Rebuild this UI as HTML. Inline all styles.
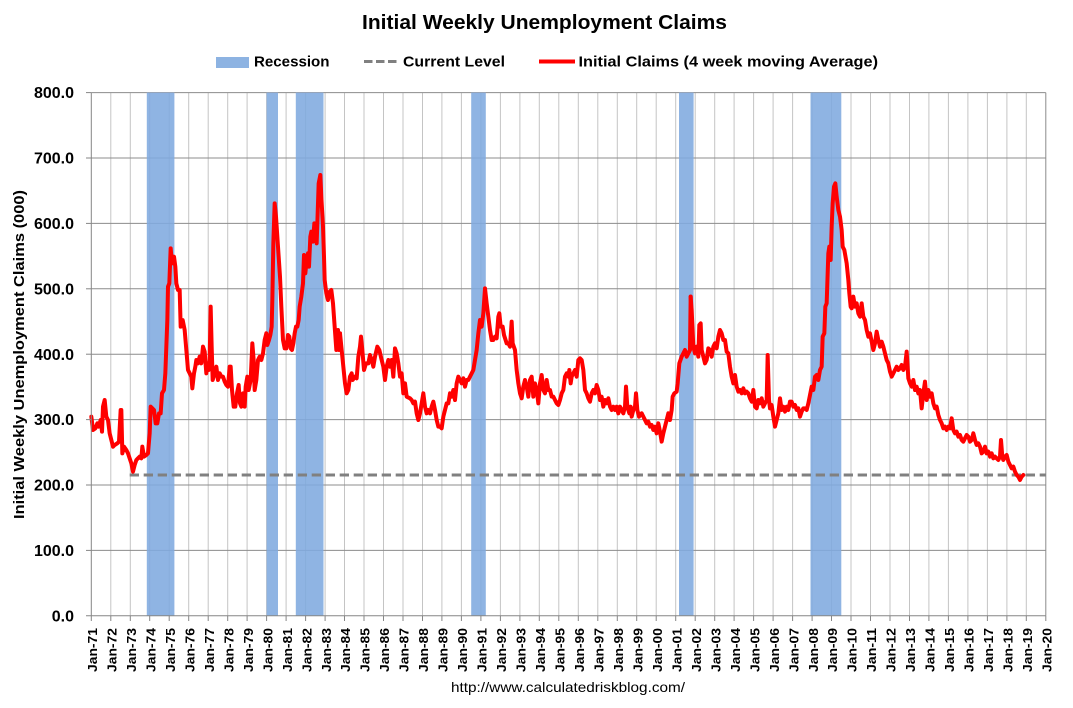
<!DOCTYPE html>
<html>
<head>
<meta charset="utf-8">
<style>
html,body{margin:0;padding:0;background:#fff;}
svg{display:block;}
text{font-family:"Liberation Sans","DejaVu Sans",sans-serif;fill:#000;}
</style>
</head>
<body>
<svg width="1073" height="708" viewBox="0 0 1073 708" xmlns="http://www.w3.org/2000/svg">
<rect x="0" y="0" width="1073" height="708" fill="#fff"/>

<!-- Title -->
<text x="544.5" y="29" font-size="20" font-weight="bold" text-anchor="middle" textLength="365" lengthAdjust="spacingAndGlyphs">Initial Weekly Unemployment Claims</text>

<!-- Legend -->
<rect x="216" y="57" width="33" height="11" fill="#8db3e2"/>
<text x="254" y="66.5" font-size="15" font-weight="bold" textLength="75.5" lengthAdjust="spacingAndGlyphs">Recession</text>
<line x1="364" y1="61.5" x2="397" y2="61.5" stroke="#808080" stroke-width="3" stroke-dasharray="8.5 3.5"/>
<text x="403" y="66.5" font-size="15" font-weight="bold" textLength="102" lengthAdjust="spacingAndGlyphs">Current Level</text>
<line x1="539" y1="61.5" x2="575" y2="61.5" stroke="#ff0000" stroke-width="4"/>
<text x="578.5" y="66.5" font-size="15" font-weight="bold" textLength="299.5" lengthAdjust="spacingAndGlyphs">Initial Claims (4 week moving Average)</text>

<!-- Vertical gridlines -->
<g stroke="#c4c4c4" stroke-width="1">
<line x1="110.8" y1="92.6" x2="110.8" y2="615.8"/>
<line x1="130.3" y1="92.6" x2="130.3" y2="615.8"/>
<line x1="149.7" y1="92.6" x2="149.7" y2="615.8"/>
<line x1="169.2" y1="92.6" x2="169.2" y2="615.8"/>
<line x1="188.7" y1="92.6" x2="188.7" y2="615.8"/>
<line x1="208.2" y1="92.6" x2="208.2" y2="615.8"/>
<line x1="227.7" y1="92.6" x2="227.7" y2="615.8"/>
<line x1="247.1" y1="92.6" x2="247.1" y2="615.8"/>
<line x1="266.6" y1="92.6" x2="266.6" y2="615.8"/>
<line x1="286.1" y1="92.6" x2="286.1" y2="615.8"/>
<line x1="305.6" y1="92.6" x2="305.6" y2="615.8"/>
<line x1="325.1" y1="92.6" x2="325.1" y2="615.8"/>
<line x1="344.5" y1="92.6" x2="344.5" y2="615.8"/>
<line x1="364.0" y1="92.6" x2="364.0" y2="615.8"/>
<line x1="383.5" y1="92.6" x2="383.5" y2="615.8"/>
<line x1="403.0" y1="92.6" x2="403.0" y2="615.8"/>
<line x1="422.5" y1="92.6" x2="422.5" y2="615.8"/>
<line x1="441.9" y1="92.6" x2="441.9" y2="615.8"/>
<line x1="461.4" y1="92.6" x2="461.4" y2="615.8"/>
<line x1="480.9" y1="92.6" x2="480.9" y2="615.8"/>
<line x1="500.4" y1="92.6" x2="500.4" y2="615.8"/>
<line x1="519.9" y1="92.6" x2="519.9" y2="615.8"/>
<line x1="539.3" y1="92.6" x2="539.3" y2="615.8"/>
<line x1="558.8" y1="92.6" x2="558.8" y2="615.8"/>
<line x1="578.3" y1="92.6" x2="578.3" y2="615.8"/>
<line x1="597.8" y1="92.6" x2="597.8" y2="615.8"/>
<line x1="617.3" y1="92.6" x2="617.3" y2="615.8"/>
<line x1="636.7" y1="92.6" x2="636.7" y2="615.8"/>
<line x1="656.2" y1="92.6" x2="656.2" y2="615.8"/>
<line x1="675.7" y1="92.6" x2="675.7" y2="615.8"/>
<line x1="695.2" y1="92.6" x2="695.2" y2="615.8"/>
<line x1="714.7" y1="92.6" x2="714.7" y2="615.8"/>
<line x1="734.1" y1="92.6" x2="734.1" y2="615.8"/>
<line x1="753.6" y1="92.6" x2="753.6" y2="615.8"/>
<line x1="773.1" y1="92.6" x2="773.1" y2="615.8"/>
<line x1="792.6" y1="92.6" x2="792.6" y2="615.8"/>
<line x1="812.1" y1="92.6" x2="812.1" y2="615.8"/>
<line x1="831.5" y1="92.6" x2="831.5" y2="615.8"/>
<line x1="851.0" y1="92.6" x2="851.0" y2="615.8"/>
<line x1="870.5" y1="92.6" x2="870.5" y2="615.8"/>
<line x1="890.0" y1="92.6" x2="890.0" y2="615.8"/>
<line x1="909.5" y1="92.6" x2="909.5" y2="615.8"/>
<line x1="928.9" y1="92.6" x2="928.9" y2="615.8"/>
<line x1="948.4" y1="92.6" x2="948.4" y2="615.8"/>
<line x1="967.9" y1="92.6" x2="967.9" y2="615.8"/>
<line x1="987.4" y1="92.6" x2="987.4" y2="615.8"/>
<line x1="1006.9" y1="92.6" x2="1006.9" y2="615.8"/>
<line x1="1026.3" y1="92.6" x2="1026.3" y2="615.8"/>
</g>
<line x1="1045.8" y1="92.6" x2="1045.8" y2="615.8" stroke="#8c8c8c" stroke-width="1"/>

<!-- Horizontal gridlines -->
<g stroke="#8c8c8c" stroke-width="1">
<line x1="91.3" y1="92.6" x2="1045.8" y2="92.6"/>
<line x1="91.3" y1="158.0" x2="1045.8" y2="158.0"/>
<line x1="91.3" y1="223.4" x2="1045.8" y2="223.4"/>
<line x1="91.3" y1="288.8" x2="1045.8" y2="288.8"/>
<line x1="91.3" y1="354.2" x2="1045.8" y2="354.2"/>
<line x1="91.3" y1="419.6" x2="1045.8" y2="419.6"/>
<line x1="91.3" y1="485.0" x2="1045.8" y2="485.0"/>
<line x1="91.3" y1="550.4" x2="1045.8" y2="550.4"/>
</g>

<!-- Recession bars -->
<g fill="#80aadf" fill-opacity="0.88">
<rect x="146.8" y="92.6" width="27.6" height="523.2"/>
<rect x="266.6" y="92.6" width="11.4" height="523.2"/>
<rect x="295.8" y="92.6" width="27.7" height="523.2"/>
<rect x="471.2" y="92.6" width="14.6" height="523.2"/>
<rect x="679.0" y="92.6" width="14.6" height="523.2"/>
<rect x="810.5" y="92.6" width="30.8" height="523.2"/>
</g>

<!-- Current level dashed line -->
<line x1="129.7" y1="475" x2="1045.8" y2="475" stroke="#808080" stroke-width="3" stroke-dasharray="9.3 4.7"/>

<!-- Red series -->
<g fill="none" stroke="#ff0000" stroke-width="4" stroke-linejoin="round" stroke-linecap="round">
<g transform="translate(88,160) scale(0.33333)">
<polyline vector-effect="non-scaling-stroke" points="10,770 15,810 22,805 28,790 32,800 38,780 42,815 45,740 50,720 55,770 60,780 65,820 70,840 75,860 80,855 88,850 93,845 98,750 100,750 103,880 108,860 115,870 120,880 125,895 130,910 135,935 140,915 145,900 150,895 155,890 160,895 163,860 168,890 175,885 180,880 185,820 188,740 193,745 198,750 203,790 208,790 213,760 218,760 222,700 228,690 232,640 235,560 238,480 240,380 244,370 248,265 252,310 258,290 262,320 265,370 270,390 275,390 278,500 284,480 290,510 295,570 300,630 305,640 310,650 313,685 318,640 322,620 325,600 330,610 335,590 340,610 345,560 350,575 355,640 358,610 362,630 365,600 368,440 371,560 374,660 380,640 385,620 390,660 395,640 400,650 405,650 410,665 415,675 420,680 425,620 428,620 432,690 437,740 442,740 447,700 452,675 456,730 460,740 465,700 470,740 473,680 478,650 482,690 488,660 493,550 497,600 500,690 505,660 510,600 515,590 520,600 525,580 530,540 535,520 538,555 543,540 547,525 551,500 553,420 556,250 560,130 564,170 568,230 572,290 576,350 580,440 585,540 590,565 595,565 600,525 604,530 608,565 612,570 616,550 620,520 624,500 628,500 632,480 635,440 640,410 645,370 648,285 652,340 656,300 660,280 663,320 667,230 670,215 675,245 679,190 683,210 686,250 689,160 692,70 697,45 700,110 705,200 708,290 710,360 715,400 720,420 725,395 730,390 735,430 740,500 745,570 750,510 753,570 756,520"/>
</g>
<g transform="translate(340,250) scale(0.33333)">
<polyline vector-effect="non-scaling-stroke" points="0,250 8,330 15,400 20,430 25,420 30,380 35,370 38,390 45,380 50,385 55,320 60,290 63,260 67,300 72,360 78,340 85,340 90,315 95,330 100,350 105,320 112,290 118,300 125,330 130,350 135,390 140,350 145,330 150,350 155,330 160,380 165,295 170,310 175,340 180,380 185,370 190,430 195,400 200,440 210,445 215,450 220,460 225,455 230,490 235,510 240,490 245,460 250,430 255,470 260,490 265,480 270,490 275,470 280,455 285,480 290,510 295,530 300,530 305,535 310,500 315,480 320,460 325,460 330,430 335,440 340,420 345,450 350,400 355,380 360,390 365,400 370,385 375,410 380,390 385,390 390,380 395,370 400,360 405,330 410,300 415,250 420,210 425,230 430,190 435,115 440,160 445,200 450,240 455,270 460,270 465,260 470,265 475,200 478,190 482,230 488,230 492,255 500,280 505,280 510,290 515,215 518,280 525,300 530,360 535,400 540,430 545,445 550,410 555,390 560,410 565,440 570,390 575,380 580,440 585,400 590,420 595,460 600,400 605,375 610,420 615,430 620,390 625,420 630,420 635,440 640,440 645,450 650,460 655,465 660,450 665,430 670,420 675,380 680,370 685,380 688,360 692,400 695,380 700,370 705,360 710,380 715,330 720,325 725,330 730,360 735,420 740,430 745,445 750,455 755,430 760,420 765,430 770,405 775,420 780,450 785,440 790,470 795,450 800,460 805,445 810,470 815,480 820,470 825,480 830,470 835,490 840,470 845,480 850,490 855,470 858,410 862,470 868,490 872,470 875,500 880,480 885,470 888,430 892,480 897,500 900,495 905,490 910,500 915,510 920,520 925,515 930,530 935,525 940,540 945,530 950,550 955,520 960,545 965,575 970,550 975,530 980,510 985,490 990,510 995,480 998,440 1003,430 1010,425 1013,400 1018,340 1025,320 1030,310 1035,300 1040,320 1045,310 1050,300 1052,140"/>
</g>
<g transform="translate(690,160) scale(0.33333)">
<polyline vector-effect="non-scaling-stroke" points="2,410 5,450 10,560 15,580 20,560 25,590 28,495 32,490 35,570 40,590 45,610 50,600 55,565 60,570 65,590 70,560 75,550 80,565 85,530 90,510 95,520 100,540 105,540 110,575 115,580 120,620 125,650 130,670 135,645 140,680 145,695 150,690 155,700 160,685 165,700 170,695 175,700 180,715 185,725 190,690 195,740 200,745 205,720 210,730 215,715 220,740 225,730 230,720 233,585 237,720 240,745 245,735 250,770 255,800 260,780 265,760 270,715 275,750 280,740 285,755 290,740 295,750 300,725 305,725 310,740 315,735 320,750 325,745 330,770 335,755 340,745 345,745 350,750 355,730 360,705 365,680 370,690 375,650 380,645 385,660 390,630 395,620 398,530 403,520 406,440 410,430 415,280 418,260 422,300 425,200 428,130 432,80 436,70 440,110 445,150 450,170 455,210 458,260 463,270 470,310 475,360 478,400 482,440 485,445 490,410 495,440 500,430 505,460 510,470 515,430 520,470 525,480 530,510 535,530 540,520 545,545 550,570 555,550 560,515 565,540 570,560 575,545 580,560 585,580 590,600 595,610 600,635 605,650 610,640 615,630 620,620 625,630 630,625 635,615 640,630 645,620 650,575 655,655 660,670 665,680 670,660 675,690 680,680 685,700 690,690 695,745 700,700 705,665 710,720 715,690 720,710 725,700 730,730 735,745 740,740 745,765 750,780 755,790 760,805 765,800 770,810 775,800 780,805 785,775 790,810 795,820 800,815 805,830 810,825 815,840 820,845 825,835 830,825 835,830 840,845 845,840 850,820 855,840 860,855 865,850 870,860 875,880 880,875 885,860 890,880 895,875 900,890 905,880 910,895 915,890 920,895 925,900 930,890 933,840 937,890 940,900 945,890 950,885 955,905 960,915 965,925 970,920 975,935 980,945 985,950 990,960 995,950 1000,945"/>
</g>
</g>

<!-- Axes -->
<line x1="91.3" y1="92.6" x2="91.3" y2="615.8" stroke="#868686" stroke-width="1"/>
<line x1="86" y1="615.8" x2="1045.8" y2="615.8" stroke="#868686" stroke-width="1"/>
<g stroke="#868686" stroke-width="1">
<line x1="86" y1="92.6" x2="91.3" y2="92.6"/>
<line x1="86" y1="158.0" x2="91.3" y2="158.0"/>
<line x1="86" y1="223.4" x2="91.3" y2="223.4"/>
<line x1="86" y1="288.8" x2="91.3" y2="288.8"/>
<line x1="86" y1="354.2" x2="91.3" y2="354.2"/>
<line x1="86" y1="419.6" x2="91.3" y2="419.6"/>
<line x1="86" y1="485.0" x2="91.3" y2="485.0"/>
<line x1="86" y1="550.4" x2="91.3" y2="550.4"/>
</g>
<g stroke="#868686" stroke-width="1" id="xt">
<line x1="91.3" y1="615.8" x2="91.3" y2="621"/>
<line x1="110.8" y1="615.8" x2="110.8" y2="621"/>
<line x1="130.3" y1="615.8" x2="130.3" y2="621"/>
<line x1="149.7" y1="615.8" x2="149.7" y2="621"/>
<line x1="169.2" y1="615.8" x2="169.2" y2="621"/>
<line x1="188.7" y1="615.8" x2="188.7" y2="621"/>
<line x1="208.2" y1="615.8" x2="208.2" y2="621"/>
<line x1="227.7" y1="615.8" x2="227.7" y2="621"/>
<line x1="247.1" y1="615.8" x2="247.1" y2="621"/>
<line x1="266.6" y1="615.8" x2="266.6" y2="621"/>
<line x1="286.1" y1="615.8" x2="286.1" y2="621"/>
<line x1="305.6" y1="615.8" x2="305.6" y2="621"/>
<line x1="325.1" y1="615.8" x2="325.1" y2="621"/>
<line x1="344.5" y1="615.8" x2="344.5" y2="621"/>
<line x1="364.0" y1="615.8" x2="364.0" y2="621"/>
<line x1="383.5" y1="615.8" x2="383.5" y2="621"/>
<line x1="403.0" y1="615.8" x2="403.0" y2="621"/>
<line x1="422.5" y1="615.8" x2="422.5" y2="621"/>
<line x1="441.9" y1="615.8" x2="441.9" y2="621"/>
<line x1="461.4" y1="615.8" x2="461.4" y2="621"/>
<line x1="480.9" y1="615.8" x2="480.9" y2="621"/>
<line x1="500.4" y1="615.8" x2="500.4" y2="621"/>
<line x1="519.9" y1="615.8" x2="519.9" y2="621"/>
<line x1="539.3" y1="615.8" x2="539.3" y2="621"/>
<line x1="558.8" y1="615.8" x2="558.8" y2="621"/>
<line x1="578.3" y1="615.8" x2="578.3" y2="621"/>
<line x1="597.8" y1="615.8" x2="597.8" y2="621"/>
<line x1="617.3" y1="615.8" x2="617.3" y2="621"/>
<line x1="636.7" y1="615.8" x2="636.7" y2="621"/>
<line x1="656.2" y1="615.8" x2="656.2" y2="621"/>
<line x1="675.7" y1="615.8" x2="675.7" y2="621"/>
<line x1="695.2" y1="615.8" x2="695.2" y2="621"/>
<line x1="714.7" y1="615.8" x2="714.7" y2="621"/>
<line x1="734.1" y1="615.8" x2="734.1" y2="621"/>
<line x1="753.6" y1="615.8" x2="753.6" y2="621"/>
<line x1="773.1" y1="615.8" x2="773.1" y2="621"/>
<line x1="792.6" y1="615.8" x2="792.6" y2="621"/>
<line x1="812.1" y1="615.8" x2="812.1" y2="621"/>
<line x1="831.5" y1="615.8" x2="831.5" y2="621"/>
<line x1="851.0" y1="615.8" x2="851.0" y2="621"/>
<line x1="870.5" y1="615.8" x2="870.5" y2="621"/>
<line x1="890.0" y1="615.8" x2="890.0" y2="621"/>
<line x1="909.5" y1="615.8" x2="909.5" y2="621"/>
<line x1="928.9" y1="615.8" x2="928.9" y2="621"/>
<line x1="948.4" y1="615.8" x2="948.4" y2="621"/>
<line x1="967.9" y1="615.8" x2="967.9" y2="621"/>
<line x1="987.4" y1="615.8" x2="987.4" y2="621"/>
<line x1="1006.9" y1="615.8" x2="1006.9" y2="621"/>
<line x1="1026.3" y1="615.8" x2="1026.3" y2="621"/>
<line x1="1045.8" y1="615.8" x2="1045.8" y2="621"/>
</g>

<!-- Y tick labels -->
<g font-size="16" font-weight="bold" text-anchor="end">
<text x="74" y="98.2">800.0</text>
<text x="74" y="163.6">700.0</text>
<text x="74" y="229.0">600.0</text>
<text x="74" y="294.4">500.0</text>
<text x="74" y="359.8">400.0</text>
<text x="74" y="425.2">300.0</text>
<text x="74" y="490.6">200.0</text>
<text x="74" y="556.0">100.0</text>
<text x="74" y="621.4">0.0</text>
</g>

<!-- Y axis title -->
<text transform="translate(24,354.5) rotate(-90)" font-size="15" font-weight="bold" text-anchor="middle" textLength="329" lengthAdjust="spacingAndGlyphs">Initial Weekly Unemployment Claims (000)</text>

<!-- X tick labels -->
<g font-size="13" font-weight="bold">
<text transform="translate(97.0,672) rotate(-90)" textLength="44" lengthAdjust="spacingAndGlyphs">Jan-71</text>
<text transform="translate(116.5,672) rotate(-90)" textLength="44" lengthAdjust="spacingAndGlyphs">Jan-72</text>
<text transform="translate(136.0,672) rotate(-90)" textLength="44" lengthAdjust="spacingAndGlyphs">Jan-73</text>
<text transform="translate(155.4,672) rotate(-90)" textLength="44" lengthAdjust="spacingAndGlyphs">Jan-74</text>
<text transform="translate(174.9,672) rotate(-90)" textLength="44" lengthAdjust="spacingAndGlyphs">Jan-75</text>
<text transform="translate(194.4,672) rotate(-90)" textLength="44" lengthAdjust="spacingAndGlyphs">Jan-76</text>
<text transform="translate(213.9,672) rotate(-90)" textLength="44" lengthAdjust="spacingAndGlyphs">Jan-77</text>
<text transform="translate(233.4,672) rotate(-90)" textLength="44" lengthAdjust="spacingAndGlyphs">Jan-78</text>
<text transform="translate(252.8,672) rotate(-90)" textLength="44" lengthAdjust="spacingAndGlyphs">Jan-79</text>
<text transform="translate(272.3,672) rotate(-90)" textLength="44" lengthAdjust="spacingAndGlyphs">Jan-80</text>
<text transform="translate(291.8,672) rotate(-90)" textLength="44" lengthAdjust="spacingAndGlyphs">Jan-81</text>
<text transform="translate(311.3,672) rotate(-90)" textLength="44" lengthAdjust="spacingAndGlyphs">Jan-82</text>
<text transform="translate(330.8,672) rotate(-90)" textLength="44" lengthAdjust="spacingAndGlyphs">Jan-83</text>
<text transform="translate(350.2,672) rotate(-90)" textLength="44" lengthAdjust="spacingAndGlyphs">Jan-84</text>
<text transform="translate(369.7,672) rotate(-90)" textLength="44" lengthAdjust="spacingAndGlyphs">Jan-85</text>
<text transform="translate(389.2,672) rotate(-90)" textLength="44" lengthAdjust="spacingAndGlyphs">Jan-86</text>
<text transform="translate(408.7,672) rotate(-90)" textLength="44" lengthAdjust="spacingAndGlyphs">Jan-87</text>
<text transform="translate(428.2,672) rotate(-90)" textLength="44" lengthAdjust="spacingAndGlyphs">Jan-88</text>
<text transform="translate(447.6,672) rotate(-90)" textLength="44" lengthAdjust="spacingAndGlyphs">Jan-89</text>
<text transform="translate(467.1,672) rotate(-90)" textLength="44" lengthAdjust="spacingAndGlyphs">Jan-90</text>
<text transform="translate(486.6,672) rotate(-90)" textLength="44" lengthAdjust="spacingAndGlyphs">Jan-91</text>
<text transform="translate(506.1,672) rotate(-90)" textLength="44" lengthAdjust="spacingAndGlyphs">Jan-92</text>
<text transform="translate(525.6,672) rotate(-90)" textLength="44" lengthAdjust="spacingAndGlyphs">Jan-93</text>
<text transform="translate(545.0,672) rotate(-90)" textLength="44" lengthAdjust="spacingAndGlyphs">Jan-94</text>
<text transform="translate(564.5,672) rotate(-90)" textLength="44" lengthAdjust="spacingAndGlyphs">Jan-95</text>
<text transform="translate(584.0,672) rotate(-90)" textLength="44" lengthAdjust="spacingAndGlyphs">Jan-96</text>
<text transform="translate(603.5,672) rotate(-90)" textLength="44" lengthAdjust="spacingAndGlyphs">Jan-97</text>
<text transform="translate(623.0,672) rotate(-90)" textLength="44" lengthAdjust="spacingAndGlyphs">Jan-98</text>
<text transform="translate(642.4,672) rotate(-90)" textLength="44" lengthAdjust="spacingAndGlyphs">Jan-99</text>
<text transform="translate(661.9,672) rotate(-90)" textLength="44" lengthAdjust="spacingAndGlyphs">Jan-00</text>
<text transform="translate(681.4,672) rotate(-90)" textLength="44" lengthAdjust="spacingAndGlyphs">Jan-01</text>
<text transform="translate(700.9,672) rotate(-90)" textLength="44" lengthAdjust="spacingAndGlyphs">Jan-02</text>
<text transform="translate(720.4,672) rotate(-90)" textLength="44" lengthAdjust="spacingAndGlyphs">Jan-03</text>
<text transform="translate(739.8,672) rotate(-90)" textLength="44" lengthAdjust="spacingAndGlyphs">Jan-04</text>
<text transform="translate(759.3,672) rotate(-90)" textLength="44" lengthAdjust="spacingAndGlyphs">Jan-05</text>
<text transform="translate(778.8,672) rotate(-90)" textLength="44" lengthAdjust="spacingAndGlyphs">Jan-06</text>
<text transform="translate(798.3,672) rotate(-90)" textLength="44" lengthAdjust="spacingAndGlyphs">Jan-07</text>
<text transform="translate(817.8,672) rotate(-90)" textLength="44" lengthAdjust="spacingAndGlyphs">Jan-08</text>
<text transform="translate(837.2,672) rotate(-90)" textLength="44" lengthAdjust="spacingAndGlyphs">Jan-09</text>
<text transform="translate(856.7,672) rotate(-90)" textLength="44" lengthAdjust="spacingAndGlyphs">Jan-10</text>
<text transform="translate(876.2,672) rotate(-90)" textLength="44" lengthAdjust="spacingAndGlyphs">Jan-11</text>
<text transform="translate(895.7,672) rotate(-90)" textLength="44" lengthAdjust="spacingAndGlyphs">Jan-12</text>
<text transform="translate(915.2,672) rotate(-90)" textLength="44" lengthAdjust="spacingAndGlyphs">Jan-13</text>
<text transform="translate(934.6,672) rotate(-90)" textLength="44" lengthAdjust="spacingAndGlyphs">Jan-14</text>
<text transform="translate(954.1,672) rotate(-90)" textLength="44" lengthAdjust="spacingAndGlyphs">Jan-15</text>
<text transform="translate(973.6,672) rotate(-90)" textLength="44" lengthAdjust="spacingAndGlyphs">Jan-16</text>
<text transform="translate(993.1,672) rotate(-90)" textLength="44" lengthAdjust="spacingAndGlyphs">Jan-17</text>
<text transform="translate(1012.6,672) rotate(-90)" textLength="44" lengthAdjust="spacingAndGlyphs">Jan-18</text>
<text transform="translate(1032.0,672) rotate(-90)" textLength="44" lengthAdjust="spacingAndGlyphs">Jan-19</text>
<text transform="translate(1051.5,672) rotate(-90)" textLength="44" lengthAdjust="spacingAndGlyphs">Jan-20</text>
</g>

<!-- Source URL -->
<text x="451" y="692" font-size="14" textLength="234" lengthAdjust="spacingAndGlyphs">http://www.calculatedriskblog.com/</text>
</svg>
</body>
</html>
